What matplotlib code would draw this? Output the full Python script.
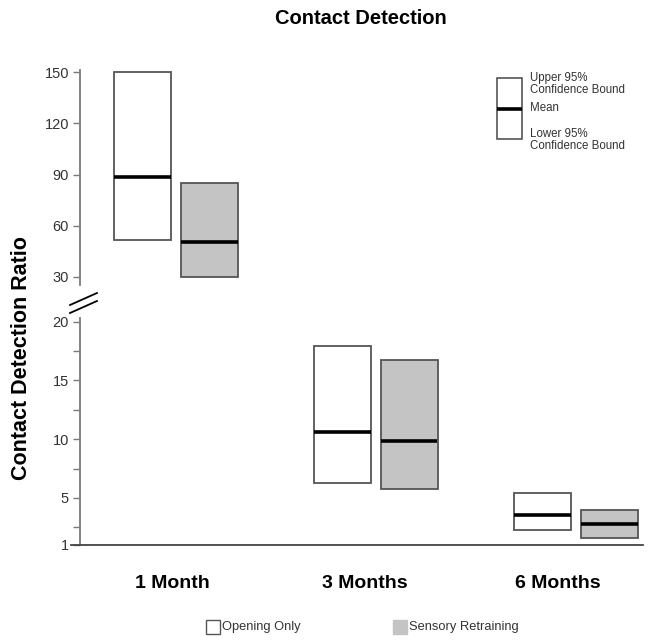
import matplotlib.pyplot as plt
from matplotlib.patches import Rectangle
from matplotlib.lines import Line2D

plt.rcParams['font.family'] = ['Liberation Sans', 'DejaVu Sans']

# data: lower bound, mean, upper bound
periods = ["1 Month", "3 Months", "6 Months"]
groups = ["Opening Only", "Sensory Retraining"]
opening_lower = [51.7, 6.25, 2.25]
opening_mean = [88.8, 10.6, 3.55]
opening_upper = [150, 17.9, 5.4]
sensory_lower = [30, 5.8, 1.6]
sensory_mean = [50.5, 9.85, 2.75]
sensory_upper = [85, 16.7, 4.0]
top_ticks = [30, 60, 90, 120, 150]
bottom_ticks = [1, 5, 10, 15, 20]

fig = plt.figure(figsize=(6.51, 6.43), dpi=100)
left, width = 80 / 651, 563 / 651
ax_top = fig.add_axes([left, 1 - 285 / 643, width, 215 / 643])
ax_bot = fig.add_axes([left, 1 - 545 / 643, width, 227 / 643])

spine_col = '#7a7a7a'
edge_col = '#555555'
fills = ['white', '#c4c4c4']
offsets = [-0.165, 0.17]
bw = 0.285

series = [(opening_lower, opening_mean, opening_upper),
          (sensory_lower, sensory_mean, sensory_upper)]

for ax in (ax_top, ax_bot):
    ax.set_xlim(-0.475, 2.34)
    for s in ['top', 'right']:
        ax.spines[s].set_visible(False)
    ax.spines['left'].set_color(spine_col)
    ax.spines['left'].set_linewidth(1.3)
    ax.tick_params(axis='y', direction='out', length=5, width=1, color=spine_col,
                   labelsize=10.5, labelcolor='#333333', pad=3)
    ax.set_xticks([])
    for g, (lo, mn, hi) in enumerate(series):
        for i in range(len(periods)):
            x0 = i + offsets[g] - bw / 2
            ax.add_patch(Rectangle((x0, lo[i]), bw, hi[i] - lo[i], facecolor=fills[g],
                                   edgecolor=edge_col, linewidth=1.3, clip_on=True))
            ax.plot([x0, x0 + bw], [mn[i], mn[i]], color='black', linewidth=2.6,
                    solid_capstyle='butt', clip_on=True)

ax_top.set_ylim(25.3, 151.2)
ax_top.set_yticks(top_ticks)
ax_top.spines['bottom'].set_visible(False)

ax_bot.set_ylim(1, 20.3)
ax_bot.set_yticks(bottom_ticks)
ax_bot.set_yticks([2.5, 7.5, 12.5, 17.5], minor=True)
ax_bot.tick_params(axis='y', which='minor', direction='out', length=5, width=1, color=spine_col)
ax_bot.spines['bottom'].set_color('#444444')
ax_bot.spines['bottom'].set_linewidth(1.3)
ax_bot.spines['bottom'].set_bounds(-0.52, 2.34)
ax_bot.spines['bottom'].set_clip_on(False)

# category labels (sit a little left of the box pairs)
for i, p in enumerate(periods):
    ax_bot.text(i - 0.015 - 0.035 * i, -0.17, p, transform=ax_bot.get_xaxis_transform(),
                ha='center', va='center', fontsize=14, fontweight='bold')

# axis break marks
for y0 in (305, 313):
    fig.add_artist(Line2D([70 / 651, 97 / 651], [1 - y0 / 643, 1 - (y0 - 12) / 643],
                          color='black', linewidth=1.3))

fig.text(361 / 651, 1 - 18 / 643, "Contact Detection", ha='center', va='center',
         fontsize=14.5, fontweight='bold')
fig.text(22 / 651, 1 - 358 / 643, "Contact Detection Ratio", ha='center', va='center',
         rotation=90, fontsize=15.5, fontweight='bold')

# key box top right
kx0, kx1 = 497 / 651, 522 / 651
ky0, ky1, kym = 1 - 139 / 643, 1 - 78 / 643, 1 - 109 / 643
fig.add_artist(Rectangle((kx0, ky0), kx1 - kx0, ky1 - ky0, transform=fig.transFigure,
                         facecolor='white', edgecolor=edge_col, linewidth=1.2))
fig.add_artist(Line2D([kx0, kx1], [kym, kym], color='black', linewidth=2.6,
                      solid_capstyle='butt'))
fig.text(530 / 651, 1 - 84 / 643, "Upper 95%\nConfidence Bound", ha='left', va='center',
         fontsize=8.3, linespacing=0.9, color='#333333')
fig.text(530 / 651, 1 - 108 / 643, "Mean", ha='left', va='center', fontsize=8.3,
         color='#333333')
fig.text(530 / 651, 1 - 140 / 643, "Lower 95%\nConfidence Bound", ha='left', va='center',
         fontsize=8.3, linespacing=0.9, color='#333333')

# bottom legend
for (lx, fc, label) in [(206, fills[0], groups[0]), (393, fills[1], groups[1])]:
    fig.add_artist(Rectangle((lx / 651, 1 - 634 / 643), 14 / 651, 14 / 643,
                             transform=fig.transFigure, facecolor=fc,
                             edgecolor=edge_col if fc == 'white' else fc, linewidth=1))
    fig.text((lx + 16) / 651, 1 - 627 / 643, label, ha='left', va='center', fontsize=9.3,
             color='#333333')

fig.savefig('out.png', dpi=100)
